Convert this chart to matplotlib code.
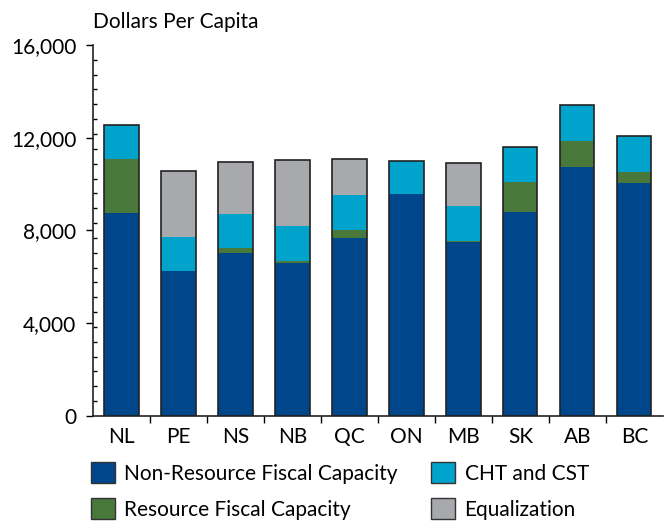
import numpy as np
import matplotlib.pyplot as plt
from matplotlib.ticker import MultipleLocator, FuncFormatter
from matplotlib.patches import Patch

plt.rcParams['font.family'] = ['Lato', 'DejaVu Sans']

provinces = ['NL', 'PE', 'NS', 'NB', 'QC', 'ON', 'MB', 'SK', 'AB', 'BC']
non_resource = [8750, 6270, 7040, 6610, 7680, 9570, 7510, 8800, 10730, 10040]
resource = [2310, 0, 210, 90, 350, 0, 40, 1290, 1120, 480]
cht_cst = [1470, 1460, 1460, 1500, 1500, 1430, 1510, 1500, 1540, 1540]
equalization = [0, 2820, 2220, 2820, 1540, 0, 1840, 0, 0, 0]

c_nonres = '#00468b'
c_res = '#48783a'
c_cht = '#00a3cc'
c_eq = '#a7a9ac'

fig = plt.figure(figsize=(6.65, 5.22), dpi=100)
ax = fig.add_axes([0.1398, 0.203, 0.857, 0.711])

x = np.arange(len(provinces))
w = 0.6
b1 = np.array(non_resource)
b2 = b1 + np.array(resource)
b3 = b2 + np.array(cht_cst)
total = b3 + np.array(equalization)

ax.bar(x, non_resource, w, color=c_nonres, linewidth=0)
ax.bar(x, resource, w, bottom=b1, color=c_res, linewidth=0)
ax.bar(x, cht_cst, w, bottom=b2, color=c_cht, linewidth=0)
ax.bar(x, equalization, w, bottom=b3, color=c_eq, linewidth=0)
# outline around the whole stack
ax.bar(x, total, w, fill=False, edgecolor='#222222', linewidth=1.2)

ax.set_xlim(-0.5, len(provinces) - 0.5)
ax.set_ylim(0, 16000)
ax.yaxis.set_major_locator(MultipleLocator(4000))
ax.yaxis.set_minor_locator(MultipleLocator(640))
ax.yaxis.set_major_formatter(FuncFormatter(lambda v, p: f'{int(v):,}'))
ax.tick_params(axis='y', which='major', direction='out', length=5, width=1,
               labelsize=15, pad=7)
ax.tick_params(axis='y', which='minor', direction='in', length=3, width=1)

ax.set_xticks(x)
ax.set_xticklabels(provinces)
ax.set_xticks(np.arange(0.5, len(provinces) - 1, 1), minor=True)
ax.tick_params(axis='x', which='major', length=0, labelsize=15, pad=8)
ax.tick_params(axis='x', which='minor', direction='out', length=5, width=1)

for s in ['top', 'right']:
    ax.spines[s].set_visible(False)
for s in ['left', 'bottom']:
    ax.spines[s].set_color('#222222')
    ax.spines[s].set_linewidth(1.2)

fig.text(0.1398, 0.958, 'Dollars Per Capita', fontsize=15, ha='left', va='center')

handles = [
    Patch(facecolor=c_nonres, edgecolor='#333333', label='Non-Resource Fiscal Capacity'),
    Patch(facecolor=c_res, edgecolor='#333333', label='Resource Fiscal Capacity'),
    Patch(facecolor=c_cht, edgecolor='#333333', label='CHT and CST'),
    Patch(facecolor=c_eq, edgecolor='#333333', label='Equalization'),
]
fig.legend(handles=handles, loc='upper left', bbox_to_anchor=(0.137, 0.114),
           ncol=2, frameon=False, fontsize=15, handlelength=1.15, handleheight=1.15,
           handletextpad=0.45, columnspacing=1.6, labelspacing=0.7,
           borderaxespad=0, borderpad=0)

fig.savefig('out.png', dpi=100)
